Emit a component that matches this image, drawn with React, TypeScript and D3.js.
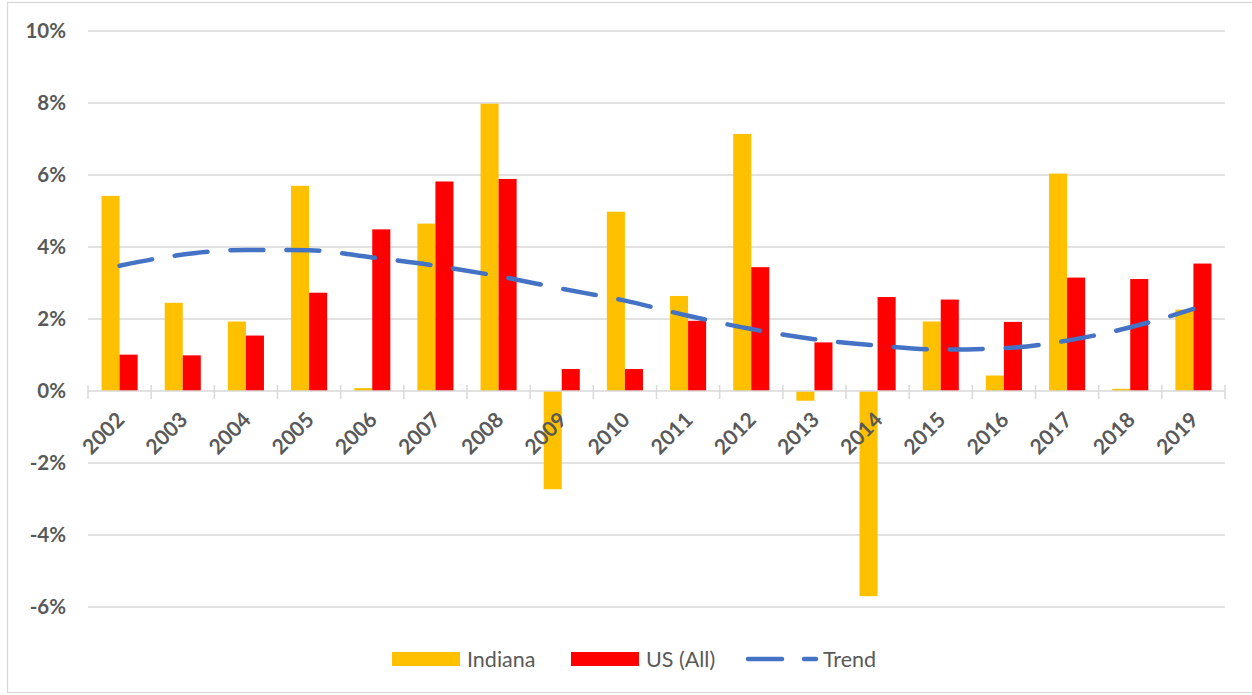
import React, { useEffect } from "react";
import * as d3 from "d3";

const years = ["2002", "2003", "2004", "2005", "2006", "2007", "2008", "2009", "2010", "2011", "2012", "2013", "2014", "2015", "2016", "2017", "2018", "2019"];
const indiana = [5.42, 2.45, 1.93, 5.7, 0.08, 4.65, 7.98, -2.73, 4.98, 2.64, 7.14, -0.27, -5.7, 1.93, 0.43, 6.04, 0.06, 2.26];
const usAll = [1.01, 0.99, 1.54, 2.73, 4.49, 5.82, 5.89, 0.61, 0.61, 1.95, 3.44, 1.35, 2.61, 2.54, 1.92, 3.15, 3.11, 3.54];
const trend = [3.48, 3.79, 3.92, 3.91, 3.71, 3.48, 3.19, 2.84, 2.51, 2.09, 1.72, 1.44, 1.26, 1.15, 1.19, 1.4, 1.77, 2.28];
const yTicks = [-6, -4, -2, 0, 2, 4, 6, 8, 10];
const seriesNames = ["Indiana", "US (All)"];

const W = 1252;
const H = 695;
const FONT = "Lato, 'Open Sans', sans-serif";
const TEXT = "#595959";
const GRID = "#d9d9d9";
const COLORS = ["#FFC000", "#FF0000"];
const TREND = "#4472C4";

export default function App() {
  useEffect(() => {
    document.body.style.margin = "0";
  }, []);

  const x = d3.scaleBand<string>().domain(years).range([88, 1225]).padding(0);
  const x1 = d3
    .scaleBand<string>()
    .domain(seriesNames)
    .range([0, x.bandwidth()])
    .paddingInner(0)
    .paddingOuter(0.75);
  const y = d3.scaleLinear().domain([-6, 10]).range([607, 31]);
  const y0 = y(0);

  const series = [indiana, usAll];

  const trendLine = d3
    .line<number>()
    .x((_, i) => (x(years[i]) as number) + x.bandwidth() / 2)
    .y((d) => y(d))
    .curve(d3.curveMonotoneX);

  const boundaries = d3.range(years.length + 1).map((i) => 88 + i * x.step());

  return (
    <svg width={W} height={H} style={{ display: "block" }} fontFamily={FONT}>
      <rect x={0} y={0} width={W} height={H} fill="#fff" />
      <rect x={7.5} y={2.5} width={W} height={690} fill="none" stroke={GRID} strokeWidth={1.3} />

      {/* gridlines + y labels */}
      {yTicks.map((t) => (
        <g key={t}>
          {t !== 0 && (
            <line x1={88} x2={1225} y1={y(t)} y2={y(t)} stroke={GRID} strokeWidth={1.3} />
          )}
          <text
            x={66}
            y={y(t)}
            dy="0.35em"
            textAnchor="end"
            fontSize={20.5}
            fontWeight="bold"
            fill={TEXT}
          >
            {t}%
          </text>
        </g>
      ))}

      {/* bars */}
      {series.map((vals, si) =>
        vals.map((v, i) => (
          <rect
            key={`${si}-${i}`}
            x={(x(years[i]) as number) + (x1(seriesNames[si]) as number)}
            width={x1.bandwidth()}
            y={Math.min(y(v), y0)}
            height={Math.abs(y(v) - y0)}
            fill={COLORS[si]}
          />
        ))
      )}

      {/* category axis */}
      <line x1={88} x2={1225} y1={y0} y2={y0} stroke={GRID} strokeWidth={1.5} />
      {boundaries.map((bx, i) => (
        <line key={i} x1={bx} x2={bx} y1={y0 - 6} y2={y0 + 8} stroke={GRID} strokeWidth={1.5} />
      ))}
      {years.map((yr) => {
        const cx = (x(yr) as number) + x.bandwidth() / 2;
        return (
          <text
            key={yr}
            transform={`translate(${cx + 1},416) rotate(-45)`}
            dy="0.35em"
            textAnchor="end"
            fontSize={21}
            fontWeight="bold"
            fill={TEXT}
          >
            {yr}
          </text>
        );
      })}

      {/* trend */}
      <path
        d={trendLine(trend) ?? ""}
        fill="none"
        stroke={TREND}
        strokeWidth={4.5}
        strokeLinecap="round"
        strokeDasharray="33 23"
      />

      {/* legend */}
      <rect x={392} y={652} width={68} height={14} fill={COLORS[0]} />
      <text x={467} y={659} dy="0.35em" fontSize={21.5} fill={TEXT}>
        {seriesNames[0]}
      </text>
      <rect x={571} y={652} width={68} height={14} fill={COLORS[1]} />
      <text x={646} y={659} dy="0.35em" fontSize={21.5} fill={TEXT}>
        {seriesNames[1]}
      </text>
      <line
        x1={748}
        x2={816}
        y1={659}
        y2={659}
        stroke={TREND}
        strokeWidth={4.5}
        strokeLinecap="round"
        strokeDasharray="34 22"
      />
      <text x={823} y={659} dy="0.35em" fontSize={21.5} fill={TEXT}>
        Trend
      </text>
    </svg>
  );
}
